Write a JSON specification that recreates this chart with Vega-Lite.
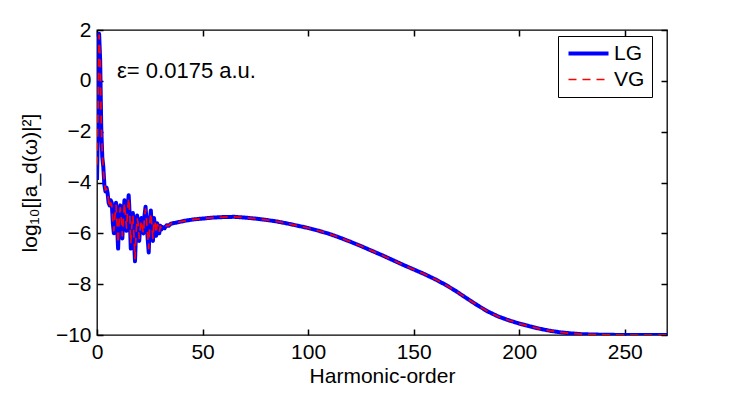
{
  "$schema": "https://vega.github.io/schema/vega-lite/v6.json",
  "width": 570,
  "height": 305,
  "autosize": {"type": "none"},
  "padding": {"left": 97, "top": 30, "right": 78, "bottom": 64},
  "background": "white",
  "datasets": {
    "spec": [
      {"h": 0, "LG": -3.9, "VG": -3.3},
      {"h": 0.5, "LG": -1.5, "VG": -1.2},
      {"h": 1, "LG": 1.85, "VG": 1.8},
      {"h": 1.5, "LG": 0.8, "VG": 0.9},
      {"h": 2, "LG": -1.8, "VG": -1.6},
      {"h": 2.5, "LG": -3.0, "VG": -2.9},
      {"h": 3, "LG": -3.4, "VG": -3.5},
      {"h": 3.5, "LG": -4.1, "VG": -4.0},
      {"h": 4, "LG": -4.35, "VG": -4.3},
      {"h": 4.5, "LG": -4.2, "VG": -4.25},
      {"h": 5, "LG": -4.4, "VG": -4.45},
      {"h": 5.5, "LG": -4.8, "VG": -4.7},
      {"h": 6, "LG": -4.9, "VG": -5.0},
      {"h": 6.5, "LG": -4.7, "VG": -4.8},
      {"h": 7, "LG": -4.8, "VG": -4.9},
      {"h": 7.5, "LG": -5.6, "VG": -5.5},
      {"h": 8, "LG": -6.0, "VG": -5.9},
      {"h": 8.5, "LG": -5.2, "VG": -5.3},
      {"h": 9, "LG": -4.8, "VG": -4.9},
      {"h": 9.5, "LG": -5.7, "VG": -5.6},
      {"h": 10, "LG": -6.6, "VG": -6.4},
      {"h": 10.5, "LG": -5.4, "VG": -5.5},
      {"h": 11, "LG": -4.9, "VG": -5.0},
      {"h": 11.5, "LG": -5.5, "VG": -5.4},
      {"h": 12, "LG": -6.2, "VG": -6.1},
      {"h": 12.5, "LG": -5.3, "VG": -5.4},
      {"h": 13, "LG": -4.7, "VG": -4.8},
      {"h": 13.5, "LG": -5.4, "VG": -5.3},
      {"h": 14, "LG": -5.9, "VG": -5.8},
      {"h": 14.5, "LG": -5.0, "VG": -5.1},
      {"h": 15, "LG": -4.5, "VG": -4.6},
      {"h": 15.5, "LG": -5.3, "VG": -5.2},
      {"h": 16, "LG": -6.6, "VG": -6.4},
      {"h": 16.5, "LG": -5.6, "VG": -5.7},
      {"h": 17, "LG": -5.2, "VG": -5.3},
      {"h": 17.5, "LG": -6.2, "VG": -6.1},
      {"h": 18, "LG": -7.1, "VG": -7.0},
      {"h": 18.5, "LG": -5.9, "VG": -6.0},
      {"h": 19, "LG": -5.3, "VG": -5.4},
      {"h": 19.5, "LG": -5.7, "VG": -5.6},
      {"h": 20, "LG": -6.3, "VG": -6.2},
      {"h": 20.5, "LG": -5.7, "VG": -5.8},
      {"h": 21, "LG": -5.4, "VG": -5.5},
      {"h": 21.5, "LG": -5.9, "VG": -5.8},
      {"h": 22, "LG": -6.0, "VG": -6.0},
      {"h": 22.5, "LG": -5.3, "VG": -5.4},
      {"h": 23, "LG": -4.95, "VG": -5.05},
      {"h": 23.5, "LG": -5.6, "VG": -5.5},
      {"h": 24, "LG": -6.2, "VG": -6.1},
      {"h": 24.5, "LG": -6.75, "VG": -6.6},
      {"h": 25, "LG": -5.5, "VG": -5.6},
      {"h": 25.5, "LG": -5.1, "VG": -5.2},
      {"h": 26, "LG": -5.8, "VG": -5.7},
      {"h": 26.5, "LG": -6.3, "VG": -6.2},
      {"h": 27, "LG": -5.4, "VG": -5.5},
      {"h": 27.5, "LG": -5.7, "VG": -5.6},
      {"h": 28, "LG": -6.1, "VG": -6.0},
      {"h": 28.5, "LG": -5.6, "VG": -5.65},
      {"h": 29, "LG": -5.75, "VG": -5.7},
      {"h": 29.5, "LG": -6.0, "VG": -5.95},
      {"h": 30, "LG": -5.7, "VG": -5.72},
      {"h": 30.5, "LG": -5.85, "VG": -5.82},
      {"h": 31, "LG": -5.75, "VG": -5.76},
      {"h": 32, "LG": -5.8, "VG": -5.78},
      {"h": 33, "LG": -5.68, "VG": -5.69},
      {"h": 34, "LG": -5.7, "VG": -5.7},
      {"h": 35, "LG": -5.62, "VG": -5.62},
      {"h": 38, "LG": -5.57, "VG": -5.57},
      {"h": 42, "LG": -5.5, "VG": -5.5},
      {"h": 46, "LG": -5.45, "VG": -5.45},
      {"h": 50, "LG": -5.42, "VG": -5.42},
      {"h": 55, "LG": -5.38, "VG": -5.38},
      {"h": 60, "LG": -5.36, "VG": -5.36},
      {"h": 65, "LG": -5.35, "VG": -5.35},
      {"h": 70, "LG": -5.38, "VG": -5.38},
      {"h": 75, "LG": -5.42, "VG": -5.42},
      {"h": 80, "LG": -5.47, "VG": -5.47},
      {"h": 85, "LG": -5.53, "VG": -5.53},
      {"h": 90, "LG": -5.61, "VG": -5.61},
      {"h": 95, "LG": -5.7, "VG": -5.7},
      {"h": 100, "LG": -5.79, "VG": -5.79},
      {"h": 105, "LG": -5.9, "VG": -5.9},
      {"h": 110, "LG": -6.02, "VG": -6.02},
      {"h": 115, "LG": -6.17, "VG": -6.17},
      {"h": 120, "LG": -6.33, "VG": -6.33},
      {"h": 125, "LG": -6.5, "VG": -6.5},
      {"h": 130, "LG": -6.68, "VG": -6.68},
      {"h": 135, "LG": -6.86, "VG": -6.86},
      {"h": 140, "LG": -7.05, "VG": -7.05},
      {"h": 145, "LG": -7.24, "VG": -7.24},
      {"h": 150, "LG": -7.42, "VG": -7.42},
      {"h": 155, "LG": -7.6, "VG": -7.6},
      {"h": 160, "LG": -7.8, "VG": -7.8},
      {"h": 165, "LG": -8.02, "VG": -8.02},
      {"h": 170, "LG": -8.27, "VG": -8.27},
      {"h": 175, "LG": -8.55, "VG": -8.55},
      {"h": 180, "LG": -8.82, "VG": -8.82},
      {"h": 185, "LG": -9.07, "VG": -9.07},
      {"h": 190, "LG": -9.27, "VG": -9.27},
      {"h": 195, "LG": -9.42, "VG": -9.42},
      {"h": 200, "LG": -9.55, "VG": -9.55},
      {"h": 205, "LG": -9.66, "VG": -9.66},
      {"h": 210, "LG": -9.76, "VG": -9.76},
      {"h": 215, "LG": -9.84, "VG": -9.84},
      {"h": 220, "LG": -9.9, "VG": -9.9},
      {"h": 225, "LG": -9.94, "VG": -9.94},
      {"h": 230, "LG": -9.97, "VG": -9.97},
      {"h": 240, "LG": -9.99, "VG": -9.99},
      {"h": 250, "LG": -10, "VG": -10},
      {"h": 260, "LG": -10, "VG": -10},
      {"h": 270, "LG": -10, "VG": -10}
    ]
  },
  "layer": [
    {
      "layer": [
        {
          "data": {"name": "spec"},
          "transform": [{"fold": ["LG", "VG"], "as": ["series", "value"]}],
          "mark": {"type": "line", "strokeJoin": "round", "strokeCap": "butt", "clip": true},
          "encoding": {
            "x": {
              "field": "h", "type": "quantitative",
              "scale": {"domain": [0, 270], "nice": false, "zero": false},
              "axis": {"values": [0, 50, 100, 150, 200, 250], "title": "Harmonic-order", "titlePadding": 3}
            },
            "y": {
              "field": "value", "type": "quantitative",
              "scale": {"domain": [-10, 2], "nice": false, "zero": false},
              "axis": {"values": [-10, -8, -6, -4, -2, 0, 2], "title": "log₁₀[|a_d(ω)|²]", "titlePadding": 15}
            },
            "color": {
              "field": "series", "type": "nominal",
              "scale": {"domain": ["LG", "VG"], "range": ["#0000ff", "#ff0000"]},
              "legend": {"title": null}
            },
            "strokeDash": {
              "field": "series", "type": "nominal",
              "scale": {"domain": ["LG", "VG"], "range": [[1, 0], [8, 6]]},
              "legend": {"title": null}
            },
            "strokeWidth": {
              "field": "series", "type": "nominal",
              "scale": {"domain": ["LG", "VG"], "range": [4, 1.7]},
              "legend": {"title": null}
            }
          }
        },
        {
          "data": {"values": [{"h": 9.5, "v": 0.38, "t": "ε= 0.0175 a.u."}]},
          "mark": {"type": "text", "align": "left", "baseline": "middle", "fontSize": 22, "font": "Liberation Sans", "color": "black"},
          "encoding": {
            "x": {"field": "h", "type": "quantitative"},
            "y": {"field": "v", "type": "quantitative"},
            "text": {"field": "t", "type": "nominal"}
          }
        }
      ]
    },
    {
      "data": {"values": [{"h": 0, "v": -10}]},
      "mark": {"type": "point", "opacity": 0},
      "encoding": {
        "x": {
          "field": "h", "type": "quantitative",
          "scale": {"domain": [0, 270], "nice": false, "zero": false},
          "axis": {"orient": "top", "values": [0, 50, 100, 150, 200, 250], "labels": false, "title": null}
        },
        "y": {
          "field": "v", "type": "quantitative",
          "scale": {"domain": [-10, 2], "nice": false, "zero": false},
          "axis": {"orient": "right", "values": [-10, -8, -6, -4, -2, 0, 2], "labels": false, "title": null}
        }
      }
    }
  ],
  "resolve": {"scale": {"x": "independent", "y": "independent"}},
  "config": {
    "font": "Liberation Sans",
    "view": {"stroke": "black", "strokeWidth": 1.3},
    "axis": {
      "grid": false,
      "domain": false,
      "offset": -6,
      "tickColor": "black",
      "tickWidth": 1.5,
      "tickSize": 6,
      "labelPadding": 6,
      "labelFlush": false,
      "labelOverlap": false,
      "labelFont": "Liberation Sans",
      "labelFontSize": 21,
      "labelColor": "black",
      "titleFont": "Liberation Sans",
      "titleFontSize": 21,
      "titleFontWeight": "normal",
      "titleColor": "black"
    },
    "legend": {
      "orient": "none",
      "legendX": 461,
      "legendY": 6,
      "strokeColor": "black",
      "fillColor": "white",
      "padding": 7,
      "symbolType": "M-3,0H3",
      "symbolSize": 178,
      "symbolOffset": 13,
      "labelFont": "Liberation Sans",
      "labelFontSize": 21,
      "labelColor": "black",
      "labelOffset": 15,
      "rowPadding": 4,
      "labelExpr": "datum.label + '\u00a0\u00a0\u00a0\u00a0\u00a0'"
    }
  }
}
